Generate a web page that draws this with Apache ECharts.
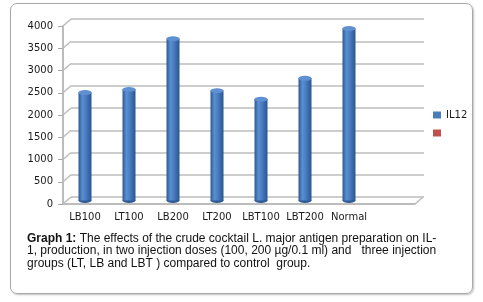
<!DOCTYPE html>
<html>
<head>
<meta charset="utf-8">
<script src="https://cdn.jsdelivr.net/npm/echarts@6/dist/echarts.min.js"></script>
<style>
    html, body { margin: 0; padding: 0; background: #fff; }
    #frame {
        position: absolute; left: 10px; top: 3px;
        width: 461px; height: 289px;
        border: 1.5px solid #a9a9a9; border-radius: 7px;
        box-shadow: 1px 1px 2px rgba(0, 0, 0, 0.25);
    }
    #main { position: absolute; left: 0; top: 0; width: 483px; height: 302px; }
</style>
</head>
<body>
<div id="frame"></div>
<div id="main"></div>
<script>
    // data
    var groups = ['LB100', 'LT100', 'LB200', 'LT200', 'LBT100', 'LBT200', 'Normal', ''];
    var il12 = [2430, 2500, 3640, 2470, 2280, 2750, 3870];
    var yTicks = [0, 500, 1000, 1500, 2000, 2500, 3000, 3500, 4000];
    var captionLines = [
        '{b|Graph 1:} The effects of the crude cocktail L. major antigen preparation on IL-',
        '1, production, in two injection doses (100, 200 \u00b5g/0.1 ml) and   three injection',
        'groups (LT, LB and LBT ) compared to control  group.'
    ];

    var axisFont = 'DejaVu Sans';
    var gridGray = '#bcbcbc';
    var depthX = 8, depthY = -7;

    var chart = echarts.init(document.getElementById('main'), null, {renderer: 'canvas'});

    var barColor = new echarts.graphic.LinearGradient(0, 0, 1, 0, [
        {offset: 0, color: '#2b5893'},
        {offset: 0.3, color: '#5b8fd1'},
        {offset: 0.55, color: '#4a7ec2'},
        {offset: 1, color: '#2a5590'}
    ]);

    var option = {
        animation: false,
        title: {
            left: 22,
            top: 227,
            text: captionLines.join('\n'),
            textStyle: {
                fontFamily: 'Liberation Sans',
                fontSize: 12,
                fontWeight: 'normal',
                color: '#111',
                lineHeight: 12.5,
                rich: {
                    b: {fontFamily: 'Liberation Sans', fontSize: 12, fontWeight: 'bold', color: '#111', lineHeight: 12.5}
                }
            }
        },
        legend: {
            orient: 'vertical',
            left: 428,
            top: 105,
            itemWidth: 8,
            itemHeight: 7,
            itemGap: 8,
            icon: 'rect',
            data: [
                {name: 'IL12', itemStyle: {color: '#4a7ebb'}},
                {name: ' ', itemStyle: {color: '#c0504d'}}
            ],
            textStyle: {fontFamily: axisFont, fontSize: 10, color: '#1a1a1a'}
        },
        grid: [
            // front plane (axes)
            {left: 63, right: 68, top: 26, bottom: 98},
            // back wall (gridlines)
            {left: 71, right: 59, top: 19, bottom: 105},
            // middle depth (columns)
            {left: 63, right: 68, top: 22.5, bottom: 101.5}
        ],
        xAxis: [
            {
                gridIndex: 0, type: 'category', data: groups,
                axisLine: {lineStyle: {color: '#a6a6a6', width: 1.5}},
                axisTick: {length: 5, lineStyle: {color: '#a6a6a6'}},
                axisLabel: {fontFamily: axisFont, fontSize: 10, color: '#1a1a1a', margin: 8, interval: 0}
            },
            {gridIndex: 1, type: 'category', data: groups, show: false},
            {gridIndex: 2, type: 'category', data: groups, show: false}
        ],
        yAxis: [
            {
                gridIndex: 0, type: 'value', min: 0, max: 4000, interval: 500,
                axisLine: {show: true, lineStyle: {color: '#a6a6a6', width: 1.5}},
                axisTick: {show: true, length: 5, lineStyle: {color: '#a6a6a6'}},
                axisLabel: {
                    fontFamily: axisFont, fontSize: 10, color: '#1a1a1a', margin: 10,
                    formatter: function (v) { return String(v); }
                },
                splitLine: {show: false}
            },
            {
                gridIndex: 1, type: 'value', min: 0, max: 4000, interval: 500,
                axisLine: {show: false}, axisTick: {show: false}, axisLabel: {show: false},
                splitLine: {show: true, lineStyle: {color: gridGray, width: 1.5}}
            },
            {gridIndex: 2, type: 'value', min: 0, max: 4000, show: false, splitLine: {show: false}}
        ],
        series: [
            {
                // little diagonals joining the front axis to the back wall
                type: 'custom',
                xAxisIndex: 0, yAxisIndex: 0,
                silent: true,
                encode: {x: 0, y: 1},
                data: yTicks.map(function (v) { return [0, v]; }),
                renderItem: function (params, api) {
                    var y = api.coord([0, api.value(1)])[1];
                    var cs = params.coordSys;
                    var kids = [{
                        type: 'line',
                        shape: {x1: cs.x, y1: y, x2: cs.x + depthX, y2: y + depthY},
                        style: {stroke: gridGray, lineWidth: 1.5}
                    }];
                    if (api.value(1) === 0) {
                        kids.push({
                            type: 'line',
                            shape: {x1: cs.x + cs.width, y1: y, x2: cs.x + cs.width + depthX, y2: y + depthY},
                            style: {stroke: gridGray, lineWidth: 1.5}
                        });
                    }
                    return {type: 'group', children: kids};
                }
            },
            {
                name: 'IL12', type: 'pictorialBar',
                xAxisIndex: 2, yAxisIndex: 2,
                data: il12,
                symbol: 'circle', symbolSize: [13, 5],
                symbolPosition: 'start', symbolOffset: [0, '50%'],
                itemStyle: {color: '#2d5a94'},
                z: 2
            },
            {
                name: 'IL12', type: 'bar',
                xAxisIndex: 2, yAxisIndex: 2,
                data: il12,
                barWidth: 13,
                itemStyle: {color: barColor},
                z: 3
            },
            {
                name: 'IL12', type: 'pictorialBar',
                xAxisIndex: 2, yAxisIndex: 2,
                data: il12,
                symbol: 'circle', symbolSize: [13, 5],
                symbolPosition: 'end', symbolOffset: [0, '-50%'],
                itemStyle: {color: '#5f90d2', borderColor: '#2e5c98', borderWidth: 0.8},
                z: 4
            },
            {
                name: ' ', type: 'bar',
                xAxisIndex: 1, yAxisIndex: 1,
                data: [],
                itemStyle: {color: '#c0504d'}
            }
        ]
    };

    chart.setOption(option);
</script>
</body>
</html>
